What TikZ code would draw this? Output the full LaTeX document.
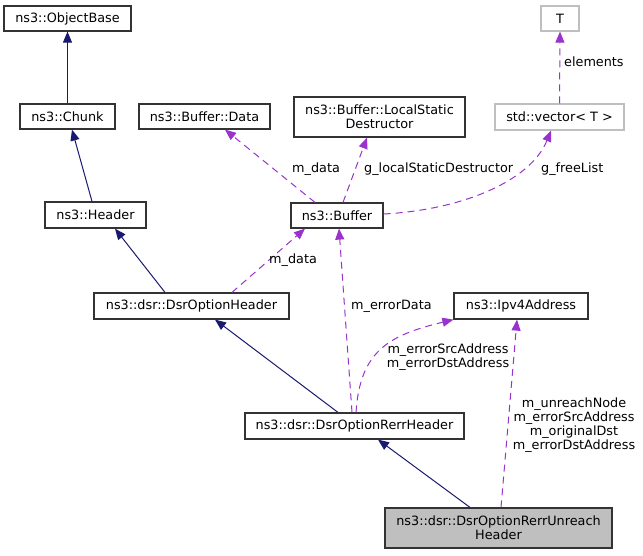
\documentclass[tikz,border=0pt]{standalone}
\usepackage{fontspec}
\setmainfont{DejaVu Sans}
\usetikzlibrary{arrows.meta}
\definecolor{navyc}{HTML}{191970}
\definecolor{orchidc}{HTML}{9A32CD}
\definecolor{gbord}{HTML}{BFBFBF}
\newcommand\dgfont{\fontsize{12.8}{14}\selectfont}
\tikzset{
  cls/.style={draw=black!80, line width=1.2pt, fill=white, inner sep=0pt, font=\dgfont, align=center},
  tmpl/.style={cls, draw=gbord},
  cur/.style={cls, fill=gbord},
  inh/.style={draw=navyc, line width=1pt, -{Triangle[length=11pt,width=9pt]}},
  use/.style={draw=orchidc, line width=1pt, dash pattern=on 7pt off 5pt, -{Triangle[length=11pt,width=9pt]}},
  lbl/.style={inner sep=0pt, font=\dgfont, align=center},
}
\begin{document}
\begin{tikzpicture}[x=1pt,y=-1pt]
\useasboundingbox (0,0) rectangle (643,555);
% nodes
\node[cls, minimum width=127pt, minimum height=25pt] (objbase) at (67.5,18.5) {ns3::ObjectBase};
\node[cls, minimum width=95pt, minimum height=25pt] (chunk) at (67.5,116.5) {ns3::Chunk};
\node[cls, minimum width=101pt, minimum height=26pt] (header) at (95.5,215) {ns3::Header};
\node[cls, minimum width=131pt, minimum height=25pt] (bufdata) at (204.5,116.5) {ns3::Buffer::Data};
\node[cls, minimum width=171pt, minimum height=40pt] (lsd) at (379.5,117) {ns3::Buffer::LocalStatic\\Destructor};
\node[tmpl, minimum width=38pt, minimum height=25pt] (tnode) at (560,18.5) {T};
\node[tmpl, minimum width=129pt, minimum height=26pt] (vec) at (559.5,117) {std::vector< T >};
\node[cls, minimum width=92pt, minimum height=25pt] (buffer) at (337,215.5) {ns3::Buffer};
\node[cls, minimum width=195pt, minimum height=26pt] (dsroh) at (191.5,306) {ns3::dsr::DsrOptionHeader};
\node[cls, minimum width=134pt, minimum height=26pt] (ipv4) at (521,306) {ns3::Ipv4Address};
\node[cls, minimum width=219pt, minimum height=26pt] (rerr) at (354.5,426) {ns3::dsr::DsrOptionRerrHeader};
\node[cur, minimum width=227pt, minimum height=40pt] (unreach) at (498.5,528) {ns3::dsr::DsrOptionRerrUnreach\\Header};
% inheritance
\draw[inh] (chunk.north) -- (objbase.south);
\draw[inh] ([xshift=-3.5pt]header.north) -- ([xshift=4.5pt]chunk.south);
\draw[inh] ([xshift=-26.5pt]dsroh.north) -- ([xshift=19.5pt]header.south);
\draw[inh] ([xshift=-16.5pt]rerr.north) -- ([xshift=23.5pt]dsroh.south);
\draw[inh] ([xshift=-28.5pt]unreach.north) -- ([xshift=23.5pt]rerr.south);
% usage
\draw[use] ([xshift=-22pt]buffer.north) -- ([xshift=20.5pt]bufdata.south);
\draw[use] ([xshift=6pt]buffer.north) -- ([xshift=-12.5pt]lsd.south);
\draw[use] ([yshift=1.5pt]buffer.east) .. controls (460,210) and (530,182) .. ([xshift=-8.5pt]vec.south);
\draw[use] (vec.north) -- (tnode.south);
\draw[use] ([xshift=40.5pt]dsroh.north) -- ([xshift=-32pt]buffer.south);
\draw[use] ([xshift=-2.5pt]rerr.north) -- ([xshift=2pt]buffer.south);
\draw[use] ([xshift=1.5pt]rerr.north) .. controls (360,350) and (390,335) .. (ipv4.south west);
\draw[use] ([xshift=2.5pt]unreach.north) -- ([xshift=-4pt]ipv4.south);
% labels
\node[lbl, anchor=west] (l1) at (292,169) {m\_data};
\node[lbl, anchor=west] (l2) at (364,169) {g\_localStaticDestructor};
\node[lbl, anchor=west] (l3) at (541,169) {g\_freeList};
\node[lbl, anchor=west] (l4) at (564,62) {elements};
\node[lbl, anchor=west] (l5) at (269,260) {m\_data};
\node[lbl, anchor=west] (l6) at (351,306) {m\_errorData};
\node[lbl] (l7) at (448,357.5) {m\_errorSrcAddress\\m\_errorDstAddress};
\node[lbl] (l8) at (574,425.5) {m\_unreachNode\\m\_errorSrcAddress\\m\_originalDst\\m\_errorDstAddress};
\end{tikzpicture}
\end{document}
